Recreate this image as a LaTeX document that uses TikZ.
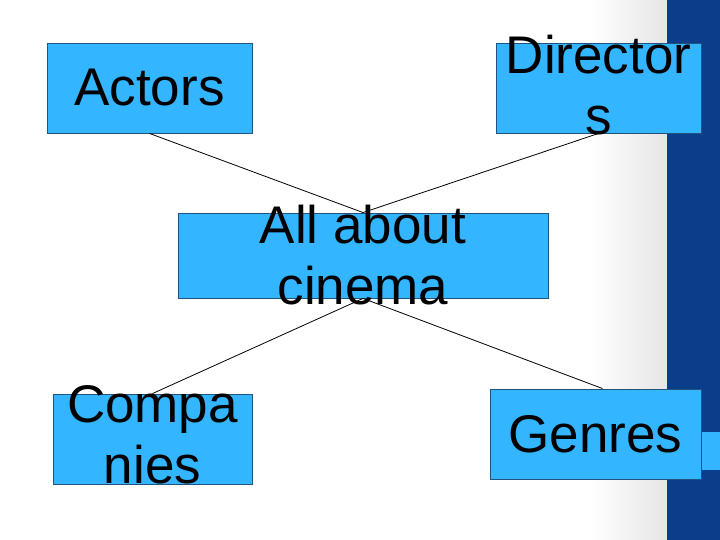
\documentclass[tikz,border=0pt]{standalone}
\usepackage{fontspec}
\setmainfont{Liberation Sans}
\definecolor{boxfill}{HTML}{33B5FF}
\definecolor{boxedge}{HTML}{24527E}
\definecolor{barblue}{HTML}{0A3D8A}
\begin{document}
\begin{tikzpicture}[x=1pt,y=1pt,
  boxshape/.style={draw=boxedge, line width=0.9pt, fill=boxfill, inner sep=0pt},
  txt/.style={font=\fontsize{53}{61}\selectfont, align=center, text=black, inner sep=0pt},
  link/.style={draw=black, line width=0.8pt}]
\useasboundingbox (0,0) rectangle (720,540);
% background
\fill[white] (0,0) rectangle (720,540);
\shade[left color=white, right color=black!10] (590,0) rectangle (667,540);
\fill[barblue] (667,0) rectangle (720,540);
\fill[boxfill] (667,70) rectangle (720,108);
% boxes
\node[boxshape, minimum width=205pt, minimum height=90pt] (actors) at (149.5,452) {};
\node[boxshape, minimum width=205pt, minimum height=90pt] (directors) at (598.5,452) {};
\node[boxshape, minimum width=370pt, minimum height=85pt] (cinema) at (363,284.5) {};
\node[boxshape, minimum width=199pt, minimum height=90pt] (companies) at (152.5,101) {};
\node[boxshape, minimum width=211pt, minimum height=90pt] (genres) at (595.5,106) {};
% connectors
\draw[link] (actors.south) -- (cinema.north);
\draw[link] (directors.south) -- (cinema.north);
\draw[link] (companies.north) -- (cinema.south);
\draw[link] ([xshift=7pt]genres.north) -- (cinema.south);
% labels
\node[txt] (tactors) at (actors) {Actors};
\node[txt] (tdirectors) at ([yshift=3pt]directors) {Director\\s};
\node[txt] (tcinema) at ([yshift=0pt]cinema) {All about\\cinema};
\node[txt] (tcompanies) at ([yshift=4pt]companies) {Compa\\nies};
\node[txt] (tgenres) at (genres) {Genres};
\end{tikzpicture}
\end{document}
